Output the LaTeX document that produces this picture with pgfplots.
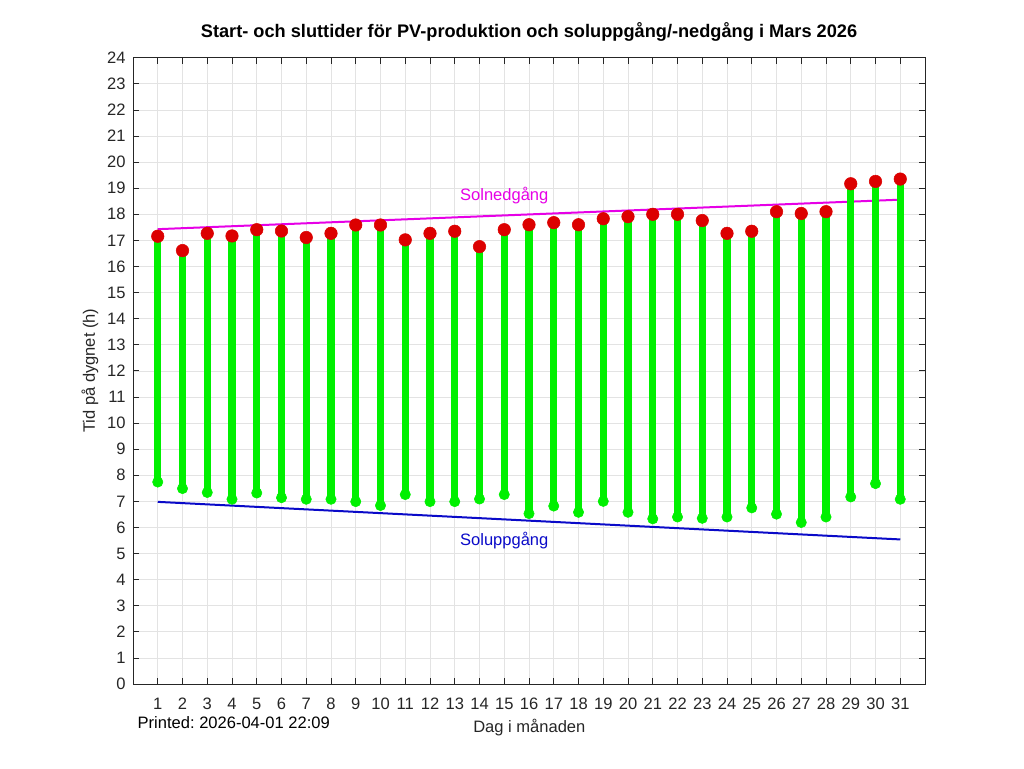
\documentclass[border=0pt]{standalone}
\usepackage{pgfplots}
\pgfplotsset{compat=1.18}
\usepackage{pgfplotstable}
\usepackage{fontspec}
\setmainfont{Liberation Sans}
\frenchspacing
\definecolor{stemgreen}{RGB}{0,240,0}
\definecolor{dotred}{RGB}{220,0,0}
\definecolor{setmag}{RGB}{230,0,230}
\definecolor{riseblue}{RGB}{10,10,200}
\definecolor{axgray}{RGB}{38,38,38}
\pgfplotstableread{
day lo hi
1 7.74 17.16
2 7.49 16.61
3 7.34 17.27
4 7.08 17.17
5 7.32 17.41
6 7.14 17.36
7 7.08 17.11
8 7.08 17.27
9 6.99 17.59
10 6.84 17.59
11 7.26 17.02
12 6.99 17.27
13 6.99 17.35
14 7.09 16.76
15 7.26 17.41
16 6.53 17.60
17 6.82 17.68
18 6.58 17.60
19 7.00 17.83
20 6.58 17.91
21 6.33 18.00
22 6.40 18.00
23 6.35 17.76
24 6.40 17.27
25 6.75 17.35
26 6.51 18.10
27 6.19 18.03
28 6.40 18.10
29 7.17 19.17
30 7.68 19.26
31 7.08 19.35
}\pv
\begin{document}
\begin{tikzpicture}
\useasboundingbox (0,0) rectangle (768pt,576pt);
\begin{axis}[
  at={(99.75pt,63pt)}, anchor=south west,
  scale only axis, width=594pt, height=469.7pt,
  xmin=0, xmax=32, ymin=0, ymax=24,
  xtick={1,...,31}, ytick={0,...,24},
  grid=major, major grid style={color=gray!22, line width=0.5pt},
  tick align=inside, tick pos=both,
  major tick length=4.5pt,
  tick style={color=axgray, line width=0.6pt},
  axis line style={color=axgray, line width=0.7pt},
  tick label style={font=\fontsize{12.4}{14}\selectfont, color=axgray},
  /pgf/number format/assume math mode=true,
  xticklabel style={yshift=-7pt},
  yticklabel style={xshift=-2pt},
  unbounded coords=jump,
  clip=false,
]
\addplot[setmag, line width=1.5pt] coordinates {(1,17.43) (31,18.56)};
\addplot[riseblue, line width=1.5pt] coordinates {(1,6.98) (31,5.54)};
\addplot[only marks, color=dotred, mark=*, mark size=4.7pt] table[x=day,y=hi]{\pv};
\addplot[stemgreen, line width=5.4pt] coordinates {
(1,7.74)(1,17.16)(1,nan)
(2,7.49)(2,16.61)(2,nan)
(3,7.34)(3,17.27)(3,nan)
(4,7.08)(4,17.17)(4,nan)
(5,7.32)(5,17.41)(5,nan)
(6,7.14)(6,17.36)(6,nan)
(7,7.08)(7,17.11)(7,nan)
(8,7.08)(8,17.27)(8,nan)
(9,6.99)(9,17.59)(9,nan)
(10,6.84)(10,17.59)(10,nan)
(11,7.26)(11,17.02)(11,nan)
(12,6.99)(12,17.27)(12,nan)
(13,6.99)(13,17.35)(13,nan)
(14,7.09)(14,16.76)(14,nan)
(15,7.26)(15,17.41)(15,nan)
(16,6.53)(16,17.60)(16,nan)
(17,6.82)(17,17.68)(17,nan)
(18,6.58)(18,17.60)(18,nan)
(19,7.00)(19,17.83)(19,nan)
(20,6.58)(20,17.91)(20,nan)
(21,6.33)(21,18.00)(21,nan)
(22,6.40)(22,18.00)(22,nan)
(23,6.35)(23,17.76)(23,nan)
(24,6.40)(24,17.27)(24,nan)
(25,6.75)(25,17.35)(25,nan)
(26,6.51)(26,18.10)(26,nan)
(27,6.19)(27,18.03)(27,nan)
(28,6.40)(28,18.10)(28,nan)
(29,7.17)(29,19.17)(29,nan)
(30,7.68)(30,19.26)(30,nan)
(31,7.08)(31,19.35)
};
\addplot[only marks, color=stemgreen, mark=*, mark size=3.9pt] table[x=day,y=lo]{\pv};
\node[setmag, font=\fontsize{12.4}{14}\selectfont] at (axis cs:15,18.71) {Solnedgång};
\node[riseblue, font=\fontsize{12.4}{14}\selectfont] at (axis cs:15,5.51) {Soluppgång};
\end{axis}
\node[font=\bfseries\fontsize{13.65}{15}\selectfont] at (396.75pt,552pt) {Start- och sluttider för PV-produktion och soluppgång/-nedgång i Mars 2026};
\node[color=axgray, font=\fontsize{12.4}{14}\selectfont] at (397pt,30pt) {Dag i månaden};
\node[font=\fontsize{12.4}{14}\selectfont, anchor=west] at (99.75pt,34pt) {Printed: 2026-04-01 22:09};
\node[color=axgray, font=\fontsize{12.4}{14}\selectfont, rotate=90] at (67.5pt,298pt) {Tid på dygnet (h)};
\end{tikzpicture}
\end{document}
